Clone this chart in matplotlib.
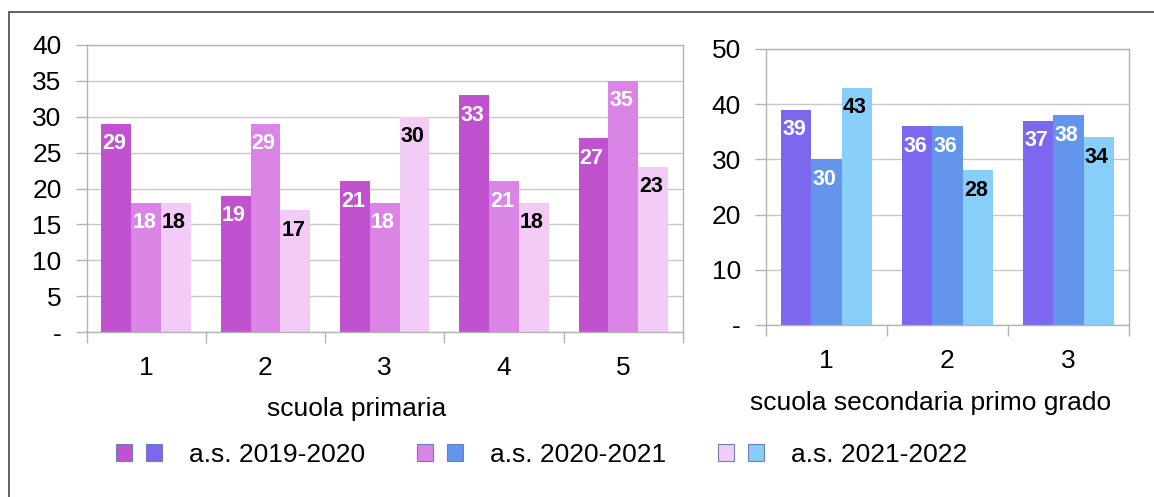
#!/usr/bin/env python3

'''
Classi per anno scolastico: scuola primaria e secondaria di primo grado.
'''

import matplotlib
matplotlib.use('Agg')
import matplotlib.pyplot as plt
from matplotlib.patches import Patch, Rectangle
from matplotlib.legend_handler import HandlerTuple
from matplotlib.ticker import FuncFormatter, MultipleLocator

plt.rcParams['font.family'] = ['Liberation Sans', 'DejaVu Sans']

years = ['a.s. 2019-2020', 'a.s. 2020-2021', 'a.s. 2021-2022']

prim_cats = ['1', '2', '3', '4', '5']
prim_1920 = [29, 19, 21, 33, 27]
prim_2021 = [18, 29, 18, 21, 35]
prim_2122 = [18, 17, 30, 18, 23]

sec_cats = ['1', '2', '3']
sec_1920 = [39, 36, 37]
sec_2021 = [30, 36, 38]
sec_2122 = [43, 28, 34]

pink = ['#C052CF', '#DA84E6', '#F2CBF7']
blue = ['#7B68EE', '#6495ED', '#87CEFA']
lab_col = ['white', 'white', 'black']

W, H = 1154, 497
fig = plt.figure(figsize=(W / 100, H / 100), dpi=100)

# outer frame (only left and top edges fall inside the image)
fig.patches.append(Rectangle((9 / W, -0.1), 1.2, 1.1 - 12 / H, transform=fig.transFigure,
                             fill=False, edgecolor='#555555', lw=1.3))


def fpos(x0, y0, x1, y1):
    return [x0 / W, 1 - y1 / H, (x1 - x0) / W, (y1 - y0) / H]


def draw(ax, cats, series, colors, ymax, step, xlabel, lab_x, lab_y):
    n = len(cats)
    xs = list(range(n))
    w = 0.25
    for k, (vals, c) in enumerate(zip(series, colors)):
        off = (k - 1) * w
        ax.bar([x + off for x in xs], vals, width=w, color=c, zorder=2)
        for x, v in zip(xs, vals):
            ax.annotate(str(v), (x + off, v), xytext=(-2, -20), textcoords='offset pixels',
                        ha='center', va='center', fontsize=15.5, fontweight='bold',
                        color=lab_col[k], zorder=3)
    ax.set_xlim(-0.5, n - 0.5)
    ax.set_ylim(0, ymax)
    ax.yaxis.set_major_locator(MultipleLocator(step))
    ax.yaxis.set_major_formatter(FuncFormatter(lambda v, p: '-' if v == 0 else f'{v:.0f}'))
    ax.set_xticks(xs)
    ax.set_xticklabels(cats)
    ax.set_xticks([x - 0.5 for x in range(n + 1)], minor=True)
    ax.tick_params(axis='x', which='major', length=0, pad=17, labelsize=19)
    ax.tick_params(axis='x', which='minor', length=8, color='#B3B3B3', width=1)
    ax.tick_params(axis='y', length=8, color='#B3B3B3', width=1, pad=10, labelsize=19)
    ax.grid(axis='y', color='#C8C8C8', lw=1, zorder=0)
    for s in ax.spines.values():
        s.set_color('#B3B3B3')
        s.set_linewidth(1)
    ax.set_xlabel(xlabel, fontsize=19)
    ax.xaxis.set_label_coords(lab_x, lab_y)
    ax.xaxis.label.set_va('center')


ax1 = fig.add_axes(fpos(86.5, 45, 683, 332))
draw(ax1, prim_cats, [prim_1920, prim_2021, prim_2122], pink, 40, 5,
     'scuola primaria', 0.4535, -0.268)

ax2 = fig.add_axes(fpos(766, 49, 1129, 325))
draw(ax2, sec_cats, [sec_1920, sec_2021, sec_2122], blue, 50, 10,
     'scuola secondaria primo grado', 0.452, -0.283)

handles = [(Patch(facecolor=p, edgecolor='#6E7FB5', lw=0.8),
            Patch(facecolor=b, edgecolor='#6E7FB5', lw=0.8))
           for p, b in zip(pink, blue)]
fig.legend(handles, years, handler_map={tuple: HandlerTuple(ndivide=None, pad=0.53)},
           loc='center left', bbox_to_anchor=(103 / W, 1 - 455 / H), ncol=3,
           frameon=False, borderpad=0, fontsize=19, handlelength=1.74,
           handleheight=0.6, handletextpad=1.02, columnspacing=1.97)

fig.savefig('out.png', dpi=100)
